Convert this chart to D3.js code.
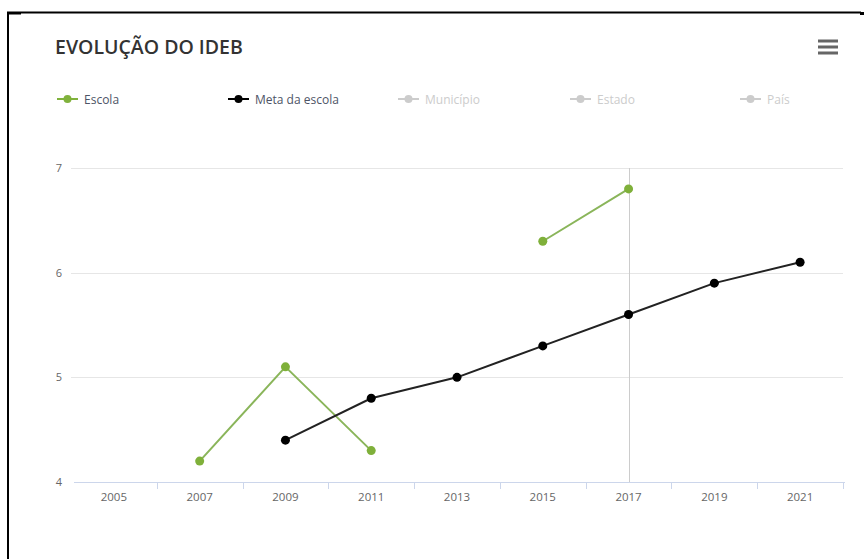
<!DOCTYPE html>
<html>
<head>
<meta charset="utf-8">
<script src="https://cdn.jsdelivr.net/npm/d3@7"></script>
<style>
  html, body { margin: 0; padding: 0; background: #fff; }
  svg { display: block; }
</style>
</head>
<body>
<svg id="chart" width="864" height="559"></svg>
<script>
// IDEB evolution: school results vs. school targets
const years = ["2005", "2007", "2009", "2011", "2013", "2015", "2017", "2019", "2021"];
const escola = [null, 4.2, 5.1, 4.3, null, 6.3, 6.8, null, null];
const metaEscola = [null, null, 4.4, 4.8, 5.0, 5.3, 5.6, 5.9, 6.1];
const yTicks = [4, 5, 6, 7];
const legendItems = [
  { name: "Escola", color: "#80b23c", visible: true },
  { name: "Meta da escola", color: "#000000", visible: true },
  { name: "Município", color: "#cccccc", visible: false },
  { name: "Estado", color: "#cccccc", visible: false },
  { name: "País", color: "#cccccc", visible: false }
];
const crosshairYear = "2017";

const svg = d3.select("#chart");
const font = "'Open Sans', 'DejaVu Sans', sans-serif";

// outer frame (top and left edges)
svg.append("line").attr("x1", 7).attr("x2", 861).attr("y1", 12.5).attr("y2", 12.5)
  .attr("stroke", "#000").attr("stroke-width", 2);
svg.append("line").attr("x1", 8).attr("x2", 8).attr("y1", 12).attr("y2", 559)
  .attr("stroke", "#000").attr("stroke-width", 2);
svg.append("rect").attr("x", 8).attr("y", 12).attr("width", 13).attr("height", 2.5).attr("fill", "#000");
svg.append("rect").attr("x", 860).attr("y", 12).attr("width", 4).attr("height", 3).attr("fill", "#000");

const plot = { left: 71, right: 843, top: 168, bottom: 482 };

const x = d3.scaleBand().domain(years).range([plot.left, plot.right]).padding(0);
const cx = d => x(d) + x.bandwidth() / 2;
const y = d3.scaleLinear().domain([4, 7]).range([plot.bottom, plot.top]);

// title
svg.append("text")
  .attr("x", 55).attr("y", 54)
  .attr("font-family", font).attr("font-size", 19.5).attr("font-weight", 600)
  .attr("fill", "#333333")
  .text("EVOLUÇÃO DO IDEB");

// context menu icon
[41, 47, 53].forEach(yy => {
  svg.append("rect").attr("x", 818).attr("y", yy - 1.5).attr("width", 20).attr("height", 3)
    .attr("fill", "#666666");
});

// legend
const legendX = [57, 228, 398, 570, 740];
const legend = svg.append("g").attr("font-family", font).attr("font-size", 12);
legendItems.forEach((item, i) => {
  const g = legend.append("g").attr("transform", `translate(${legendX[i]},99)`);
  g.append("line").attr("x1", 0).attr("x2", 21).attr("y1", 0).attr("y2", 0)
    .attr("stroke", item.color).attr("stroke-width", 2);
  g.append("circle").attr("cx", 10.5).attr("cy", 0).attr("r", 4).attr("fill", item.color);
  g.append("text").attr("x", 27).attr("y", 4.5)
    .attr("fill", item.visible ? "#4d5466" : "#cccccc")
    .text(item.name);
});

// horizontal grid lines
svg.append("g").selectAll("line").data(yTicks.filter(t => t !== 4)).join("line")
  .attr("x1", plot.left).attr("x2", plot.right)
  .attr("y1", d => Math.round(y(d)) + 0.5).attr("y2", d => Math.round(y(d)) + 0.5)
  .attr("stroke", "#e6e6e6").attr("stroke-width", 1);

// y labels
svg.append("g").selectAll("text").data(yTicks).join("text")
  .attr("x", 62).attr("y", d => y(d) + 4)
  .attr("text-anchor", "end")
  .attr("font-family", font).attr("font-size", 11).attr("fill", "#666666")
  .text(d => d);

// crosshair
svg.append("line")
  .attr("x1", Math.round(cx(crosshairYear)) + 0.5).attr("x2", Math.round(cx(crosshairYear)) + 0.5)
  .attr("y1", plot.top).attr("y2", plot.bottom)
  .attr("stroke", "#cccccc").attr("stroke-width", 1);

// x axis: line, ticks on category boundaries, labels
const xAxis = svg.append("g");
xAxis.append("line")
  .attr("x1", plot.left + 3).attr("x2", plot.right + 2)
  .attr("y1", plot.bottom + 0.5).attr("y2", plot.bottom + 0.5)
  .attr("stroke", "#ccd6eb").attr("stroke-width", 1);
const bounds = years.map(d => x(d)).concat([plot.right]);
xAxis.selectAll("line.tick").data(bounds.slice(1)).join("line")
  .attr("class", "tick")
  .attr("x1", d => Math.round(d) + 0.5).attr("x2", d => Math.round(d) + 0.5)
  .attr("y1", plot.bottom).attr("y2", plot.bottom + 7)
  .attr("stroke", "#ccd6eb").attr("stroke-width", 1);
xAxis.selectAll("text").data(years).join("text")
  .attr("x", d => cx(d)).attr("y", plot.bottom + 19)
  .attr("text-anchor", "middle")
  .attr("font-family", font).attr("font-size", 11.5).attr("fill", "#666666")
  .text(d => d);

// series
function drawSeries(values, color, lineColor) {
  const pts = years.map((yr, i) => ({ yr, v: values[i] }));
  const line = d3.line()
    .defined(d => d.v !== null)
    .x(d => cx(d.yr)).y(d => y(d.v));
  svg.append("path").datum(pts)
    .attr("d", line).attr("fill", "none")
    .attr("stroke", lineColor).attr("stroke-width", 2)
    .attr("stroke-linejoin", "round");
  svg.append("g").selectAll("circle").data(pts.filter(d => d.v !== null)).join("circle")
    .attr("cx", d => cx(d.yr)).attr("cy", d => y(d.v)).attr("r", 4.5)
    .attr("fill", color);
}
drawSeries(escola, "#7fb03a", "#8ab55a");
drawSeries(metaEscola, "#000000", "#222222");
</script>
</body>
</html>
